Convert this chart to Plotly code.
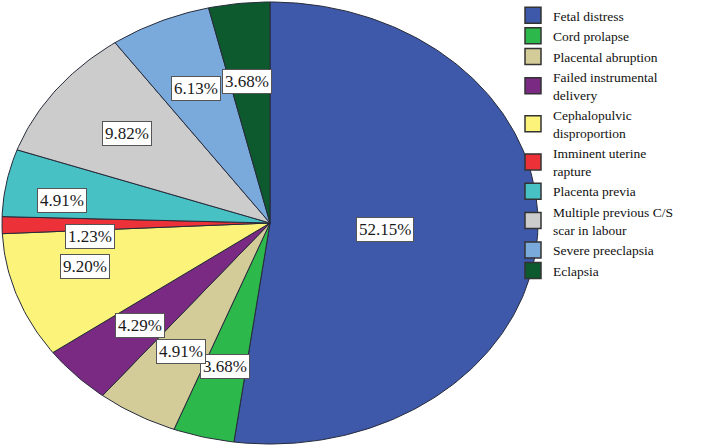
import numpy as np
import plotly.graph_objects as go

# data
categories = ["Fetal distress", "Cord prolapse", "Placental abruption",
              "Failed instrumental<br>delivery", "Cephalopulvic<br>disproportion",
              "Imminent uterine<br>rapture", "Placenta previa",
              "Multiple previous C/S<br>scar in labour", "Severe preeclapsia", "Eclapsia"]
percents = [52.15, 3.68, 4.91, 4.29, 9.20, 1.23, 4.91, 9.82, 6.13, 3.68]

colors = ["#3e58aa", "#2db84c", "#d3cc98", "#7b2a83", "#fcf47a",
          "#ec3238", "#47c1c4", "#cccccc", "#7aaadb", "#0d5a2f"]

# nudges for the crowded labels on the left (pixels)
nudges = {4: (-16, 6), 5: (0, -12), 6: (-31, -4), 9: (-2, -6)}

serif = "Liberation Serif, Times New Roman, serif"

fig = go.Figure()

start = 0.0
annotations = []
for i, (name, p, c) in enumerate(zip(categories, percents, colors)):
    end = start + p
    n = max(int(p * 4), 4)
    theta = np.linspace(start, end, n) / 100 * 2 * np.pi
    xs = np.concatenate([[0], np.sin(theta), [0]])
    ys = np.concatenate([[0], np.cos(theta), [0]])
    fig.add_trace(go.Scatter(
        x=xs, y=ys, mode='lines', fill='toself', fillcolor=c,
        line=dict(color='#262b3a', width=1),
        hoverinfo='skip', showlegend=False,
    ))
    # legend swatch
    fig.add_trace(go.Scatter(
        x=[None], y=[None], mode='markers', name=name,
        marker=dict(symbol='square', size=16, color=c,
                    line=dict(color='#333333', width=1.5)),
    ))

    mid = (start + end) / 2 / 100 * 2 * np.pi
    f = 0.43 if p > 50 else 0.67
    dx, dy = nudges.get(i, (0, 0))
    annotations.append(dict(
        x=f * np.sin(mid), y=f * np.cos(mid), text=f"{p:.2f}%",
        showarrow=False, xshift=dx, yshift=dy,
        font=dict(family=serif, size=17, color='#1a1a1a'),
        bgcolor='white', bordercolor='#555555', borderwidth=1, borderpad=2,
    ))
    start = end

fig.update_layout(
    width=709,
    height=448,
    margin=dict(l=0, r=169, t=0, b=2, autoexpand=False),
    paper_bgcolor='white',
    plot_bgcolor='white',
    xaxis=dict(range=[-270 / 268, 270 / 268], visible=False, fixedrange=True),
    yaxis=dict(range=[-223 / 221, 223 / 221], visible=False, fixedrange=True),
    annotations=annotations,
    legend=dict(
        xref='container', yref='container',
        x=513 / 709, y=1, xanchor='left', yanchor='top',
        bgcolor='rgba(0,0,0,0)', maxheight=440,
        font=dict(family=serif, size=13.5, color='#111111'),
        tracegroupgap=0,
    ),
)

# drop the default page margin so the figure sits at the window corner
fig.write_html("out.html", config={'displayModeBar': False},
               post_script="document.body.style.margin='0px';")
